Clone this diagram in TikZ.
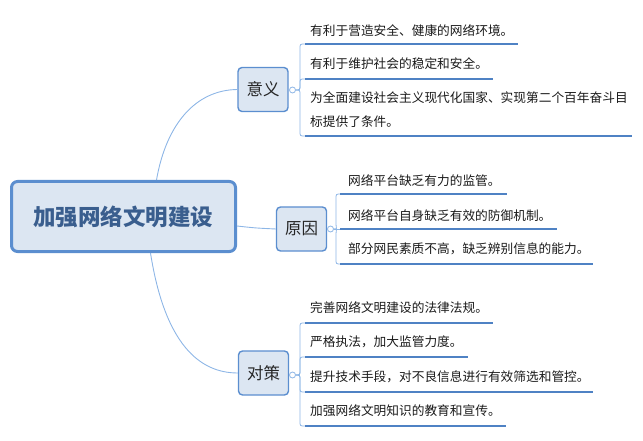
\documentclass[tikz,border=0pt]{standalone}
\usepackage{fontspec}
\setmainfont{Noto Sans CJK SC}
\usetikzlibrary{calc}
\definecolor{boxfill}{HTML}{DCE6F2}
\definecolor{boxline}{HTML}{5B8ECF}
\definecolor{fanline}{HTML}{8DB6E6}
\definecolor{uline}{HTML}{4F82C4}
\definecolor{roottext}{HTML}{3A5E8E}
\definecolor{itemtext}{HTML}{1A1A1A}
\tikzset{
  rootbox/.style={draw=boxline, line width=3pt, fill=boxfill, rounded corners=6pt, inner sep=0pt,
    minimum width=224pt, minimum height=70pt, font=\fontsize{22.5}{26}\selectfont\bfseries, text=roottext},
  subbox/.style={draw=boxline, line width=1.4pt, fill=boxfill, rounded corners=4pt, inner sep=0pt,
    minimum width=50pt, minimum height=44pt, font=\fontsize{16.5}{20}\selectfont, text=black!85},
  knob/.style={circle, draw=fanline, line width=0.8pt, fill=white, minimum size=6pt, inner sep=0pt},
  fan/.style={draw=fanline, line width=0.8pt},
  link/.style={draw=fanline, line width=0.9pt},
  item/.style={anchor=west, inner sep=0pt, font=\fontsize{12.7}{24}\selectfont, text=itemtext, align=left},
  under/.style={draw=uline, line width=2pt}
}
\newcommand\myfan[4]{%
  \pgfmathsetmacro\mys{ifthenelse(#4>#3,1,-1)}%
  \draw[fan] (#1.east) .. controls +(4,0) and +(0,-5*\mys) .. (#2,#3+5*\mys) -- (#2,#4-5*\mys)
     .. controls +(0,5*\mys) and +(-5,0) .. (#2+5,#4);}
\begin{document}
\begin{tikzpicture}[x=1pt,y=-1pt]
\useasboundingbox (0,0) rectangle (643,441);
% root
\node[rootbox] (root) at (123.5,216.5) {加强网络文明建设};
% sub topics
\node[subbox] (yiyi) at (263,89.5) {意义};
\node[subbox] (yuanyin) at (301.5,229) {原因};
\node[subbox] (duice) at (263.5,373) {对策};
\node[knob] (c1) at (292.5,90) {};
\node[knob] (c2) at (330.5,229) {};
\node[knob] (c3) at (292.5,375) {};
% root links
\draw[link] ($(root.north)+(33,0)$) .. controls (166,125) and (195,90) .. (yiyi.west);
\draw[link] ($(root.east)+(0,9.5)$) .. controls (255,228) .. (yuanyin.west);
\draw[link] ($(root.south)+(27,0)$) .. controls (165,345) and (200,373) .. (duice.west);
% 意义 items
\coordinate (a1) at (305,44); \coordinate (a1e) at (518,44);
\coordinate (a2) at (305,79); \coordinate (a2e) at (493,79);
\coordinate (a3) at (305,136); \coordinate (a3e) at (632,136);
\myfan{c1}{300}{90}{44}
\myfan{c1}{300}{90}{79}
\myfan{c1}{300}{90}{136}
\draw[under] (a1) -- (a1e);
\draw[under] (a2) -- (a2e);
\draw[under] (a3) -- (a3e);
\node[item] (t11) at (310,31) {有利于营造安全、健康的网络环境。};
\node[item] (t12) at (310,64) {有利于维护社会的稳定和安全。};
\node[item] (t13) at (310,110) {为全面建设社会主义现代化国家、实现第二个百年奋斗目\\标提供了条件。};
% 原因 items
\coordinate (b1) at (340,194); \coordinate (b1e) at (507,194);
\coordinate (b2) at (340,229); \coordinate (b2e) at (557,229);
\coordinate (b3) at (340,264); \coordinate (b3e) at (593,264);
\myfan{c2}{336}{229}{194}
\draw[fan] (c2.east) -- (b2);
\myfan{c2}{336}{229}{264}
\draw[under] (b1) -- (b1e);
\draw[under] (b2) -- (b2e);
\draw[under] (b3) -- (b3e);
\node[item] (t21) at (348,181) {网络平台缺乏有力的监管。};
\node[item] (t22) at (348,216) {网络平台自身缺乏有效的防御机制。};
\node[item] (t23) at (348,249) {部分网民素质不高，缺乏辨别信息的能力。};
% 对策 items
\coordinate (d1) at (305,323); \coordinate (d1e) at (493,323);
\coordinate (d2) at (305,357); \coordinate (d2e) at (468,357);
\coordinate (d3) at (305,392); \coordinate (d3e) at (593,392);
\coordinate (d4) at (305,426); \coordinate (d4e) at (506,426);
\myfan{c3}{300}{375}{323}
\myfan{c3}{300}{375}{357}
\myfan{c3}{300}{375}{392}
\myfan{c3}{300}{375}{426}
\draw[under] (d1) -- (d1e);
\draw[under] (d2) -- (d2e);
\draw[under] (d3) -- (d3e);
\draw[under] (d4) -- (d4e);
\node[item] (t31) at (310,308) {完善网络文明建设的法律法规。};
\node[item] (t32) at (310,342) {严格执法，加大监管力度。};
\node[item] (t33) at (310,377) {提升技术手段，对不良信息进行有效筛选和管控。};
\node[item] (t34) at (310,411) {加强网络文明知识的教育和宣传。};
\end{tikzpicture}
\end{document}
